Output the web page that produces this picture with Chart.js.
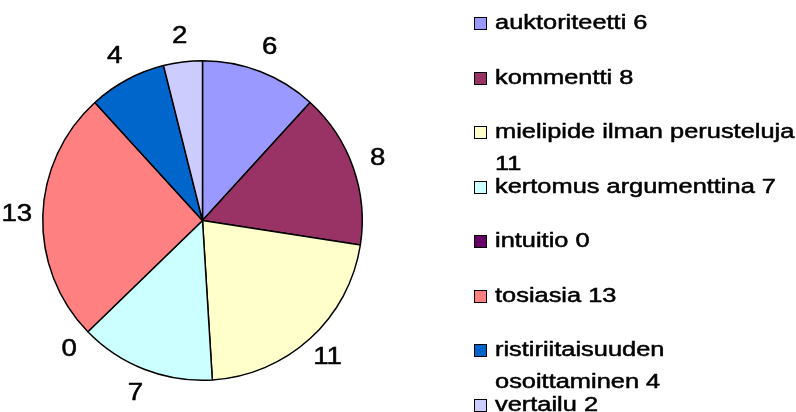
<!DOCTYPE html>
<html>
<head>
<meta charset="utf-8">
<script src="https://cdn.jsdelivr.net/npm/chart.js@4.4.0/dist/chart.umd.min.js"></script>
<style>
  body { margin: 0; background: #fff; }
  #wrap { width: 796px; height: 412px; }
</style>
</head>
<body>
<div id="wrap"><canvas id="pieChart"></canvas></div>
<script>
const categories = ["auktoriteetti", "kommentti", "mielipide ilman perusteluja", "kertomus argumenttina",
                    "intuitio", "tosiasia", "ristiriitaisuuden osoittaminen", "vertailu"];
const counts = [6, 8, 11, 7, 0, 13, 4, 2];
const sliceColors = ["#9999FF", "#993366", "#FFFFCC", "#CCFFFF", "#660066", "#FF8080", "#0066CC", "#CCCCFF"];

const FONT = '"Liberation Sans", Arial, sans-serif';
const STRETCH = 1.27; // original text is drawn wide

// legend layout
const legendX = 474;
const legendTop = 24;
const legendGap = 54.5;
const legendWrap = 310;

function wrapText(ctx, text, maxWidth) {
    const words = text.split(" ");
    const lines = [];
    let line = "";
    for (const w of words) {
        const test = line ? line + " " + w : w;
        if (line && ctx.measureText(test).width * STRETCH > maxWidth) {
            lines.push(line);
            line = w;
        } else {
            line = test;
        }
    }
    lines.push(line);
    return lines;
}

// draws text stretched sideways, a little heavier like the original
function wideText(ctx, text, x, y, stretch) {
    ctx.save();
    ctx.translate(x, y);
    ctx.scale(stretch, 1);
    ctx.strokeStyle = ctx.fillStyle;
    ctx.lineWidth = 0.5;
    ctx.fillText(text, 0, 0);
    ctx.strokeText(text, 0, 0);
    ctx.restore();
}

// value labels just outside the pie
const outsideLabels = {
    id: "outsideLabels",
    afterDatasetsDraw(chart) {
        const ctx = chart.ctx;
        const meta = chart.getDatasetMeta(0);
        ctx.save();
        ctx.font = "23px " + FONT;
        ctx.fillStyle = "#000";
        ctx.textAlign = "center";
        ctx.textBaseline = "middle";
        meta.data.forEach((arc, i) => {
            const p = arc.getProps(["x", "y", "startAngle", "endAngle", "outerRadius"], true);
            const mid = (p.startAngle + p.endAngle) / 2;
            const r = p.outerRadius + 26;
            wideText(ctx, String(counts[i]), p.x + Math.cos(mid) * r, p.y + Math.sin(mid) * r, 1.2);
        });
        ctx.restore();
    }
};

// legend on the right, Excel style (wrapped lines don't push rows down)
const sideLegend = {
    id: "sideLegend",
    afterDraw(chart) {
        const ctx = chart.ctx;
        ctx.save();
        ctx.font = "20px " + FONT;
        ctx.textAlign = "left";
        ctx.textBaseline = "alphabetic";
        categories.forEach((name, i) => {
            const cy = Math.round(legendTop + i * legendGap);
            ctx.fillStyle = sliceColors[i];
            ctx.strokeStyle = "#000";
            ctx.lineWidth = 1;
            ctx.fillRect(legendX + 0.5, cy - 6.5, 12, 12);
            ctx.strokeRect(legendX + 0.5, cy - 6.5, 12, 12);
            ctx.fillStyle = "#000";
            const lines = wrapText(ctx, name + " " + counts[i], legendWrap);
            lines.forEach((line, k) => {
                wideText(ctx, line, legendX + 21, cy + 5 + k * 32, STRETCH);
            });
        });
        ctx.restore();
    }
};

new Chart(document.getElementById("pieChart"), {
    type: "pie",
    data: {
        labels: categories,
        datasets: [{
            data: counts,
            backgroundColor: sliceColors,
            borderColor: "#000",
            borderWidth: 1.5,
            hoverOffset: 0
        }]
    },
    options: {
        responsive: true,
        maintainAspectRatio: false,
        animation: false,
        layout: { padding: { left: 42, top: 60, right: 433, bottom: 31 } },
        plugins: {
            legend: { display: false },
            tooltip: { enabled: false }
        }
    },
    plugins: [outsideLabels, sideLegend]
});
</script>
</body>
</html>
